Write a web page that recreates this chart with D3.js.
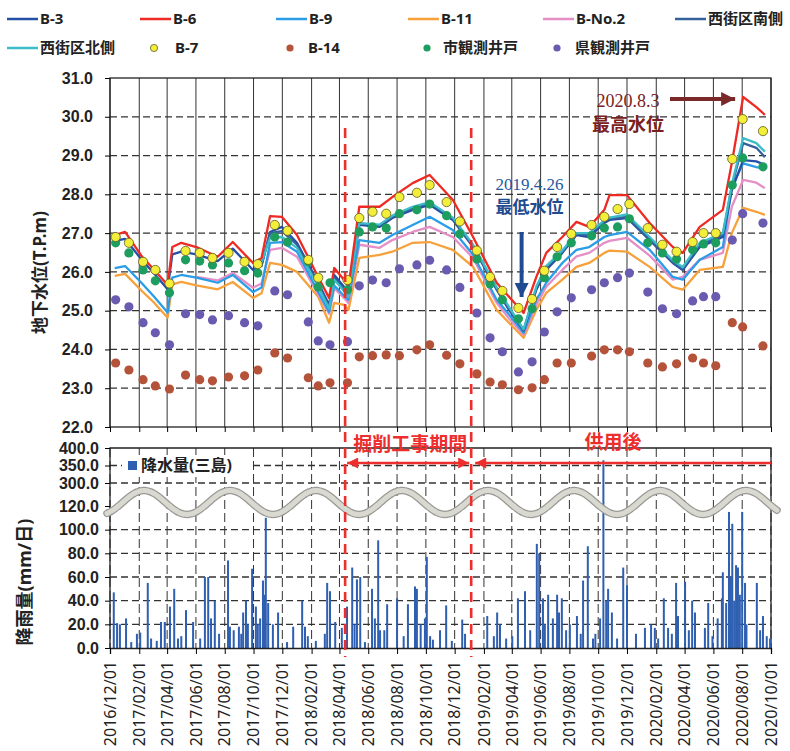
<!DOCTYPE html>
<html>
<head>
<meta charset="utf-8">
<script src="https://cdn.jsdelivr.net/npm/d3@7"></script>
<style>
  body { margin: 0; background: #fff; }
  svg { font-family: "Noto Sans", "Noto Sans CJK JP", sans-serif; }
</style>
</head>
<body>
<div class="container"></div>
<script>
// ---- data ----
const lineDates = ["2016-12-11","2017-01-02","2017-02-07","2017-03-05","2017-04-02","2017-04-12","2017-05-01","2017-06-02","2017-07-17","2017-08-18",
  "2017-09-30","2017-10-18","2017-11-05","2017-11-30","2018-01-01","2018-02-15","2018-03-10","2018-03-21","2018-04-11","2018-04-20",
  "2018-05-13","2018-06-25","2018-07-22","2018-09-03","2018-10-09","2018-11-27","2019-01-09","2019-02-28","2019-03-26","2019-04-26",
  "2019-05-23","2019-06-13","2019-07-17","2019-08-16","2019-09-12","2019-10-14","2019-10-25","2019-12-01","2020-01-18","2020-03-07",
  "2020-03-28","2020-05-03","2020-06-21","2020-07-10","2020-08-03","2020-08-31","2020-09-18"];

const b3 = [26.80,26.85,26.30,25.95,25.55,26.45,26.52,26.45,26.28,26.60,
  26.05,26.15,27.03,27.16,26.75,25.72,25.15,25.92,25.61,25.46,
  27.21,27.16,27.39,27.60,27.73,27.34,26.64,25.54,25.02,24.50,
  25.54,26.05,26.49,26.95,26.90,27.26,27.34,27.39,26.82,26.23,
  26.05,26.64,26.90,28.11,28.88,28.85,28.76];
const b6 = [26.95,27.03,26.39,26.05,25.66,26.64,26.75,26.64,26.39,26.77,
  26.23,26.36,27.44,27.42,26.95,25.87,25.33,26.10,25.79,25.61,
  27.68,27.68,27.93,28.29,28.50,27.86,26.90,25.72,25.36,24.94,
  25.87,26.49,26.90,27.29,27.16,27.60,27.98,27.98,27.26,26.64,
  26.49,27.16,27.60,28.81,30.51,30.25,30.05];
const b9 = [26.10,26.15,25.70,25.35,24.95,25.85,25.92,25.85,25.72,25.92,
  25.48,25.60,26.75,26.77,26.52,25.48,24.97,25.65,25.38,25.28,
  26.82,26.75,26.95,27.21,27.42,27.08,26.44,25.28,24.90,24.43,
  25.28,25.72,26.23,26.57,26.64,26.90,26.95,27.03,26.57,25.87,
  25.80,26.31,26.64,28.19,28.80,28.70,28.65];
const b11 = [25.90,25.95,25.50,25.20,24.82,25.68,25.74,25.65,25.55,25.74,
  25.33,25.45,26.23,26.18,26.00,25.36,24.69,25.20,25.15,25.02,
  26.36,26.44,26.52,26.75,26.77,26.57,26.13,25.02,24.69,24.30,
  25.02,25.46,25.80,26.13,26.23,26.49,26.55,26.52,26.13,25.61,
  25.54,26.05,26.13,27.00,27.65,27.55,27.47];
const bNo2 = [null,null,null,null,null,null,null,25.87,25.78,25.97,
  25.59,25.70,26.57,26.62,26.39,25.42,24.92,25.58,25.32,25.20,
  26.70,26.62,26.82,27.03,27.16,26.90,26.36,25.20,24.80,24.38,
  25.15,25.62,26.05,26.40,26.49,26.75,26.80,26.88,26.42,25.80,
  25.87,26.31,26.49,27.68,28.37,28.30,28.16];
const nishiSouth = [null,null,null,null,null,null,null,null,null,null,
  null,26.20,27.00,27.05,26.70,25.68,25.10,25.85,25.55,25.40,
  27.25,27.20,27.42,27.65,27.78,27.38,26.67,25.56,25.05,24.48,
  25.58,26.10,26.52,26.98,26.95,27.30,27.38,27.42,26.85,26.25,
  26.08,26.70,26.95,28.20,29.32,29.20,28.96];
const nishiNorth = [null,null,null,null,null,null,null,null,null,null,
  null,26.25,26.88,26.90,26.62,25.62,25.05,25.80,25.50,25.35,
  27.26,27.22,27.45,27.68,27.80,27.40,26.70,25.60,25.10,24.52,
  25.62,26.15,26.55,27.00,27.00,27.33,27.40,27.48,26.90,26.30,
  26.12,26.75,27.00,28.25,29.45,29.32,29.10];

const dotDates = ["2016-12-13","2017-01-10","2017-02-09","2017-03-07","2017-04-06","2017-05-10","2017-06-09","2017-07-06","2017-08-09","2017-09-12","2017-10-10","2017-11-15","2017-12-12",
  "2018-01-25","2018-02-15","2018-03-12","2018-04-18","2018-05-13","2018-06-10","2018-07-09","2018-08-06","2018-09-12","2018-10-09","2018-11-14","2018-12-12",
  "2019-01-17","2019-02-14","2019-03-12","2019-04-15","2019-05-14","2019-06-09","2019-07-06","2019-08-05","2019-09-17","2019-10-14","2019-11-11","2019-12-06",
  "2020-01-14","2020-02-14","2020-03-15","2020-04-18","2020-05-11","2020-06-06","2020-07-11","2020-08-02","2020-09-14"];

const b7 = [26.90,26.75,26.26,26.05,25.70,26.54,26.49,26.36,26.49,26.26,26.20,27.21,27.06,
  26.31,25.85,null,25.79,27.39,27.55,27.50,27.93,28.04,28.24,27.80,27.30,
  26.55,25.87,25.51,25.07,25.30,26.03,26.64,26.98,27.21,27.42,27.62,27.75,
  27.13,26.70,26.52,26.77,27.00,27.00,28.91,29.94,29.63];
const cityWell = [26.75,26.49,26.05,25.77,25.46,26.31,26.28,26.18,26.23,26.03,25.97,26.90,26.77,
  26.26,25.61,25.72,25.54,27.03,27.16,27.13,27.50,27.60,27.75,27.45,26.98,
  26.33,25.69,25.28,24.79,25.05,25.85,26.39,26.75,26.93,27.13,27.16,27.37,
  26.75,26.49,26.33,26.57,26.72,26.75,28.24,28.94,28.71];
const prefWell = [25.28,25.10,24.69,24.43,24.12,24.92,24.90,24.76,24.87,24.69,24.61,25.51,25.41,
  24.71,24.22,24.12,24.20,25.64,25.79,25.72,26.08,26.18,26.30,26.05,25.60,
  24.94,24.30,23.94,23.42,23.68,24.45,24.97,25.33,25.54,25.72,25.85,25.97,
  25.48,25.05,24.92,25.25,25.36,25.36,26.82,27.50,27.26];
const b14 = [23.65,23.47,23.22,23.06,22.98,23.34,23.22,23.19,23.29,23.32,23.47,23.91,23.78,
  23.27,23.06,23.14,23.14,23.81,23.84,23.86,23.84,23.99,24.12,23.85,23.63,
  23.37,23.16,23.09,22.96,23.01,23.22,23.65,23.65,23.83,23.99,23.99,23.94,
  23.65,23.55,23.63,23.78,23.65,23.58,24.69,24.58,24.09];

// daily rainfall (Mishima), mm/day
const rain = [
  ["2016-12-09",47],["2016-12-16",21],["2016-12-22",20],["2017-01-04",25],["2017-01-15",5],["2017-01-27",12],
  ["2017-02-03",13],["2017-02-19",55],["2017-02-26",8],["2017-03-10",6],["2017-03-19",22],["2017-03-27",22],
  ["2017-04-07",35],["2017-04-16",50],["2017-04-24",8],["2017-05-01",10],["2017-05-11",32],["2017-05-26",22],
  ["2017-06-10",8],["2017-06-20",60],["2017-06-27",60],["2017-07-03",25],["2017-07-11",40],["2017-07-20",12],
  ["2017-08-08",74],["2017-08-12",18],["2017-08-20",15],["2017-08-31",18],["2017-09-05",12],["2017-09-09",30],
  ["2017-09-15",40],["2017-09-19",20],["2017-09-28",67],["2017-10-06",35],["2017-10-10",20],["2017-10-15",25],
  ["2017-10-21",57],["2017-10-24",45],["2017-10-27",110],["2017-11-01",38],["2017-11-11",20],["2017-11-22",30],
  ["2017-12-11",5],["2017-12-24",18],["2018-01-12",40],["2018-01-18",18],["2018-01-24",10],["2018-02-10",6],
  ["2018-03-01",12],["2018-03-06",55],["2018-03-12",48],["2018-03-23",22],["2018-04-06",17],["2018-04-17",35],
  ["2018-04-28",68],["2018-05-03",20],["2018-05-08",58],["2018-05-15",60],["2018-05-25",5],["2018-06-09",50],
  ["2018-06-15",25],["2018-06-22",91],["2018-06-26",15],["2018-07-05",15],["2018-07-11",37],["2018-08-01",42],
  ["2018-08-15",10],["2018-08-24",37],["2018-09-08",52],["2018-09-12",50],["2018-09-20",20],["2018-09-29",25],
  ["2018-10-03",77],["2018-10-10",10],["2018-10-16",7],["2018-10-31",15],["2018-11-13",36],["2018-11-25",6],
  ["2018-12-17",24],["2018-12-23",12],["2019-02-08",27],["2019-02-22",10],["2019-03-01",30],["2019-03-07",20],
  ["2019-03-20",8],["2019-04-02",10],["2019-04-14",42],["2019-04-29",48],["2019-05-10",15],["2019-05-24",88],
  ["2019-05-29",80],["2019-06-06",42],["2019-06-10",20],["2019-06-17",45],["2019-06-27",25],["2019-07-06",45],
  ["2019-07-10",30],["2019-07-16",42],["2019-07-25",15],["2019-08-02",20],["2019-08-17",27],["2019-08-25",12],
  ["2019-08-30",57],["2019-09-09",86],["2019-09-20",8],["2019-09-25",12],["2019-10-05",25],["2019-10-12",365],
  ["2019-10-18",40],["2019-10-22",50],["2019-10-30",30],["2019-11-10",8],["2019-11-23",68],["2019-12-01",53],
  ["2019-12-20",12],["2020-01-08",17],["2020-01-21",20],["2020-01-29",17],["2020-02-05",8],["2020-02-17",42],
  ["2020-02-26",17],["2020-03-05",12],["2020-03-14",55],["2020-03-18",27],["2020-04-02",56],["2020-04-10",15],
  ["2020-04-17",40],["2020-04-23",30],["2020-05-14",17],["2020-05-21",38],["2020-05-30",10],["2020-06-10",25],
  ["2020-06-19",42],["2020-06-21",64],["2020-06-28",38],["2020-07-04",115],["2020-07-08",60],["2020-07-11",105],
  ["2020-07-15",40],["2020-07-19",70],["2020-07-23",68],["2020-07-27",45],["2020-08-01",115],["2020-08-07",55],
  ["2020-08-10",20],["2020-09-01",55],["2020-09-08",15],["2020-09-14",27],["2020-09-22",10],["2020-09-29",8]
];

const xTickLabels = ["2016/12/01","2017/02/01","2017/04/01","2017/06/01","2017/08/01","2017/10/01","2017/12/01",
  "2018/02/01","2018/04/01","2018/06/01","2018/08/01","2018/10/01","2018/12/01","2019/02/01","2019/04/01",
  "2019/06/01","2019/08/01","2019/10/01","2019/12/01","2020/02/01","2020/04/01","2020/06/01","2020/08/01","2020/10/01"];
const waterTicks = [22,23,24,25,26,27,28,29,30,31];
const rainTicks = [0,20,40,60,80,100,120,300,350,400];
const constructionPeriod = ["2018-04-13","2019-01-05"];
const lowestDate = "2019-04-26";
const highestDate = "2020-08-03";

// ---- setup ----
const W = 790, H = 751;
const parse = d3.timeParse("%Y-%m-%d");
const parseSlash = d3.timeParse("%Y/%m/%d");

const svg = d3.select(".container").append("svg")
  .attr("width", W).attr("height", H);

const x = d3.scaleTime()
  .domain([parse("2016-12-01"), parse("2020-10-01")])
  .range([110, 771]);
const yWater = d3.scaleLinear().domain([22, 31]).range([427, 78]);
// broken axis: 0-120 and 300-400
const yRain = d3.scaleLinear().domain([0, 120, 300, 400]).range([648, 506, 483, 448]);

const tickDates = xTickLabels.map(parseSlash);
const gridColor = "#333";

// ---- upper panel grid ----
const upper = svg.append("g");
upper.selectAll(".vgrid").data(tickDates).join("line")
  .attr("x1", d => x(d)).attr("x2", d => x(d))
  .attr("y1", yWater(31)).attr("y2", yWater(22))
  .attr("stroke", gridColor).attr("stroke-width", 1);
upper.selectAll(".hgrid").data(waterTicks.filter(d => d > 22 && d < 31)).join("line")
  .attr("x1", 110).attr("x2", 771)
  .attr("y1", d => yWater(d)).attr("y2", d => yWater(d))
  .attr("stroke", gridColor).attr("stroke-width", 1.3)
  .attr("stroke-dasharray", "7,4");
upper.append("rect")
  .attr("x", 110).attr("y", yWater(31))
  .attr("width", 661).attr("height", yWater(22) - yWater(31))
  .attr("fill", "none").attr("stroke", "#222").attr("stroke-width", 1.3);

const yAxisW = upper.append("g")
  .attr("transform", "translate(110,0)")
  .call(d3.axisLeft(yWater).tickValues(waterTicks).tickFormat(d3.format(".1f")).tickSize(5).tickPadding(12));
yAxisW.select(".domain").remove();
yAxisW.selectAll("text").attr("font-size", 16).attr("font-weight", "bold").attr("fill", "#222");

const xAxisUpper = upper.append("g")
  .attr("transform", `translate(0,${yWater(22)})`)
  .call(d3.axisBottom(x).tickValues(tickDates).tickFormat("").tickSize(5));
xAxisUpper.select(".domain").remove();

// ---- lower panel grid ----
const lower = svg.append("g");
lower.selectAll(".vgrid").data(tickDates).join("line")
  .attr("x1", d => x(d)).attr("x2", d => x(d))
  .attr("y1", 448).attr("y2", 648)
  .attr("stroke", gridColor).attr("stroke-width", 1)
  .attr("stroke-dasharray", "9,4");
lower.selectAll(".hgrid").data(rainTicks.filter(d => d > 0 && d < 400 && d !== 120)).join("line")
  .attr("x1", 110).attr("x2", 771)
  .attr("y1", d => yRain(d)).attr("y2", d => yRain(d))
  .attr("stroke", gridColor).attr("stroke-width", 1.3)
  .attr("stroke-dasharray", "7,4");
lower.append("path")
  .attr("d", `M110,648V448H771V648`)
  .attr("fill", "none").attr("stroke", "#222").attr("stroke-width", 1.3);

// rain bars
lower.selectAll(".bar").data(rain).join("rect")
  .attr("x", d => x(parse(d[0])) - 1)
  .attr("width", 2)
  .attr("y", d => yRain(d[1]))
  .attr("height", d => 648 - yRain(d[1]))
  .attr("fill", "#2f5fb0");

const yAxisR = lower.append("g")
  .attr("transform", "translate(110,0)")
  .call(d3.axisLeft(yRain).tickValues(rainTicks).tickFormat(d3.format(".1f")).tickSize(5).tickPadding(6));
yAxisR.select(".domain").remove();
yAxisR.selectAll("text").attr("font-size", 16).attr("font-weight", "bold").attr("fill", "#222");

const xAxisLower = lower.append("g")
  .attr("transform", "translate(0,648)")
  .call(d3.axisBottom(x).tickValues(tickDates).tickSize(6).tickFormat(""));
xAxisLower.select(".domain").attr("stroke", "#222").attr("stroke-width", 1.3);

// x labels, rotated
svg.append("g").selectAll("text").data(xTickLabels).join("text")
  .attr("transform", d => `translate(${x(parseSlash(d))},661) rotate(-90)`)
  .attr("text-anchor", "end").attr("dy", "0.36em")
  .attr("font-size", 16).attr("fill", "#222")
  .text(d => d);

// axis break wave (decoration)
const waveLine = d3.line().curve(d3.curveBasis);
const wavePts = d3.range(107, 778, 2).map(px => [px, 502.5 - 12 * Math.cos(2 * Math.PI * (px - 144) / 86)]);
lower.append("path").attr("d", waveLine(wavePts))
  .attr("fill", "none").attr("stroke", "#9a9a94").attr("stroke-width", 7.5)
  .attr("stroke-linecap", "round");
lower.append("path").attr("d", waveLine(wavePts))
  .attr("fill", "none").attr("stroke", "#d9d9d2").attr("stroke-width", 5)
  .attr("stroke-linecap", "round");

// rain legend
lower.append("rect").attr("x", 122).attr("y", 455).attr("width", 130).attr("height", 22).attr("fill", "#fff");
lower.append("rect").attr("x", 128).attr("y", 461).attr("width", 9).attr("height", 9).attr("fill", "#2f5fb0");
lower.append("text").attr("x", 141).attr("y", 471)
  .attr("font-size", 16).attr("font-weight", "bold").attr("fill", "#222")
  .text("降水量(三島)");

// ---- water level lines ----
const lineSeries = [
  { name: "B-11", values: b11, color: "#f6a13a" },
  { name: "B-No.2", values: bNo2, color: "#e48fc6" },
  { name: "B-9", values: b9, color: "#2a9de6" },
  { name: "B-3", values: b3, color: "#2450a6" },
  { name: "西街区南側", values: nishiSouth, color: "#34609c" },
  { name: "西街区北側", values: nishiNorth, color: "#3cbcc8" },
  { name: "B-6", values: b6, color: "#ee2a22" }
];
const line = d3.line()
  .defined(d => d.v != null)
  .x(d => x(d.date))
  .y(d => yWater(d.v));

const linesG = svg.append("g");
lineSeries.forEach(s => {
  const pts = lineDates.map((d, i) => ({ date: parse(d), v: s.values[i] }));
  linesG.append("path")
    .attr("d", line(pts))
    .attr("fill", "none")
    .attr("stroke", s.color)
    .attr("stroke-width", 2.3)
    .attr("stroke-linejoin", "round");
});

// ---- monthly observation dots ----
const dotSeries = [
  { name: "県観測井戸", values: prefWell, color: "#6b5bb0", stroke: "none" },
  { name: "B-14", values: b14, color: "#b4523a", stroke: "none" },
  { name: "市観測井戸", values: cityWell, color: "#1d9e5e", stroke: "none" },
  { name: "B-7", values: b7, color: "#f2ee3a", stroke: "#5e5a20" }
];
const dotsG = svg.append("g");
dotSeries.forEach(s => {
  const pts = dotDates.map((d, i) => ({ date: parse(d), v: s.values[i] })).filter(d => d.v != null);
  dotsG.append("g").selectAll("circle").data(pts).join("circle")
    .attr("cx", d => x(d.date))
    .attr("cy", d => yWater(d.v))
    .attr("r", 4.6)
    .attr("fill", s.color)
    .attr("stroke", s.stroke)
    .attr("stroke-width", 0.8);
});

// ---- construction period markers ----
const red = "#ee2d2d";
const ann = svg.append("g");
constructionPeriod.forEach(d => {
  ann.append("line")
    .attr("x1", x(parse(d))).attr("x2", x(parse(d)))
    .attr("y1", 128).attr("y2", 657)
    .attr("stroke", red).attr("stroke-width", 2.6)
    .attr("stroke-dasharray", "10,6");
});

const defs = svg.append("defs");
function marker(id, color, w, h) {
  defs.append("marker")
    .attr("id", id).attr("viewBox", "0 0 10 10")
    .attr("refX", 10).attr("refY", 5)
    .attr("markerWidth", w).attr("markerHeight", h)
    .attr("markerUnits", "userSpaceOnUse")
    .attr("orient", "auto-start-reverse")
    .append("path").attr("d", "M0,0L10,5L0,10Z").attr("fill", color);
}
marker("headRed", red, 13, 11);
marker("headBlue", "#1f4c90", 14, 14);
marker("headBrown", "#7a2828", 14, 14);

const cx0 = x(parse(constructionPeriod[0])), cx1 = x(parse(constructionPeriod[1]));
ann.append("line")
  .attr("x1", cx0 + 2).attr("x2", cx1 - 2).attr("y1", 463).attr("y2", 463)
  .attr("stroke", red).attr("stroke-width", 2.6)
  .attr("marker-start", "url(#headRed)").attr("marker-end", "url(#headRed)");
ann.append("line")
  .attr("x1", cx1 + 4).attr("x2", 771).attr("y1", 463).attr("y2", 463)
  .attr("stroke", red).attr("stroke-width", 2.6)
  .attr("marker-start", "url(#headRed)");
ann.append("text")
  .attr("x", (cx0 + cx1) / 2 + 2).attr("y", 451)
  .attr("text-anchor", "middle").attr("font-size", 19).attr("font-weight", "bold")
  .attr("fill", red).text("掘削工事期間");
ann.append("text")
  .attr("x", 613).attr("y", 449)
  .attr("text-anchor", "middle").attr("font-size", 19).attr("font-weight", "bold")
  .attr("fill", red).text("供用後");

// lowest level annotation
const lx = x(parse(lowestDate)) - 2;
ann.append("text").attr("x", lx + 8).attr("y", 190)
  .attr("text-anchor", "middle").attr("font-family", "Liberation Serif, serif")
  .attr("font-size", 17).attr("fill", "#1f5aa0").text("2019.4.26");
ann.append("text").attr("x", lx + 8).attr("y", 213)
  .attr("text-anchor", "middle").attr("font-size", 17).attr("font-weight", "bold")
  .attr("fill", "#1f4c90").text("最低水位");
ann.append("line")
  .attr("x1", lx).attr("x2", lx).attr("y1", 232).attr("y2", 297)
  .attr("stroke", "#1f4c90").attr("stroke-width", 4)
  .attr("marker-end", "url(#headBlue)");

// highest level annotation
const hx = x(parse(highestDate));
ann.append("text").attr("x", 628).attr("y", 107)
  .attr("text-anchor", "middle").attr("font-family", "Liberation Serif, serif")
  .attr("font-size", 18).attr("fill", "#7a2020").text("2020.8.3");
ann.append("text").attr("x", 628).attr("y", 131)
  .attr("text-anchor", "middle").attr("font-size", 18).attr("font-weight", "bold")
  .attr("fill", "#7a2020").text("最高水位");
ann.append("line")
  .attr("x1", 670).attr("x2", hx - 8).attr("y1", 99).attr("y2", 99)
  .attr("stroke", "#7a2828").attr("stroke-width", 4)
  .attr("marker-end", "url(#headBrown)");

// ---- axis titles ----
svg.append("text")
  .attr("transform", `translate(46,${(yWater(31) + yWater(22)) / 2 + 20}) rotate(-90)`)
  .attr("text-anchor", "middle").attr("font-size", 17).attr("font-weight", "bold").attr("fill", "#222")
  .text("地下水位(T.P.m)");
svg.append("text")
  .attr("transform", "translate(31,582) rotate(-90)")
  .attr("text-anchor", "middle").attr("font-size", 18).attr("font-weight", "bold").attr("fill", "#222")
  .text("降雨量(mm/日)");

// ---- legend ----
const legendItems = [
  { name: "B-3", type: "line", color: "#2450a6", x: 7, row: 0 },
  { name: "B-6", type: "line", color: "#ee2a22", x: 140, row: 0 },
  { name: "B-9", type: "line", color: "#2a9de6", x: 276, row: 0 },
  { name: "B-11", type: "line", color: "#f6a13a", x: 408, row: 0 },
  { name: "B-No.2", type: "line", color: "#e48fc6", x: 543, row: 0 },
  { name: "西街区南側", type: "line", color: "#34609c", x: 675, row: 0 },
  { name: "西街区北側", type: "line", color: "#3cbcc8", x: 7, row: 1 },
  { name: "B-7", type: "dot", color: "#f2ee3a", stroke: "#5e5a20", x: 154, tx: 175, row: 1 },
  { name: "B-14", type: "dot", color: "#b4523a", x: 290, tx: 308, row: 1 },
  { name: "市観測井戸", type: "dot", color: "#1d9e5e", x: 427, tx: 443, row: 1 },
  { name: "県観測井戸", type: "dot", color: "#6b5bb0", x: 557, tx: 575, row: 1 }
];
const legend = svg.append("g");
legendItems.forEach(it => {
  const ly = it.row === 0 ? 19 : 48;
  let tx;
  if (it.type === "line") {
    legend.append("line")
      .attr("x1", it.x).attr("x2", it.x + 31).attr("y1", ly).attr("y2", ly)
      .attr("stroke", it.color).attr("stroke-width", 2.5);
    tx = it.x + 33;
  } else {
    legend.append("circle")
      .attr("cx", it.x).attr("cy", ly).attr("r", 3.6)
      .attr("fill", it.color).attr("stroke", it.stroke || "none").attr("stroke-width", 0.8);
    tx = it.tx;
  }
  legend.append("text")
    .attr("x", tx).attr("y", ly).attr("dy", "0.36em")
    .attr("font-size", 15).attr("font-weight", "bold").attr("fill", "#222")
    .text(it.name);
});
</script>
</body>
</html>
